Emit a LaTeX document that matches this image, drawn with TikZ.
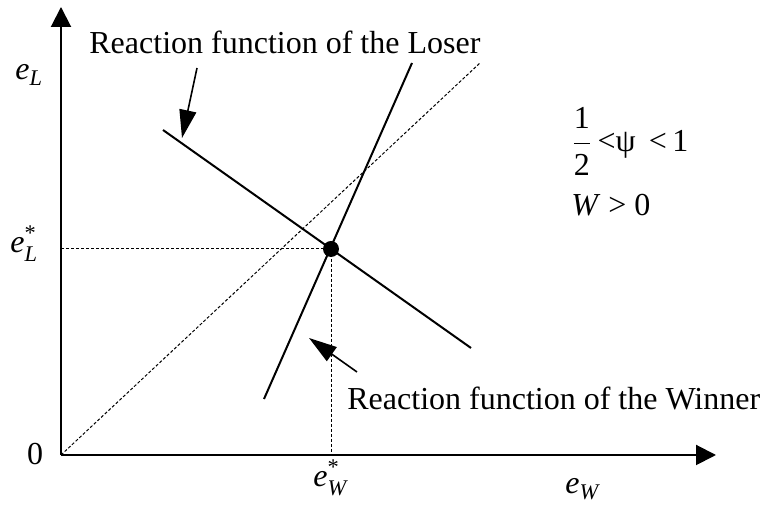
\documentclass[tikz,border=0pt]{standalone}
\usepackage{amsmath}
\usepackage{fontspec}
\setmainfont{Liberation Serif}
\usetikzlibrary{arrows.meta,positioning}

\newcommand{\effort}[1]{$\textit{e}_{\textit{#1}}$}
\newcommand{\efforteq}[1]{$\textit{e}^{\text{*}}_{\textit{#1}}$}

\begin{document}
\begin{tikzpicture}[x=0.5pt, y=-0.5pt,
    font=\fontsize{16}{19}\selectfont,
    axis/.style={line width=1pt, -{Triangle[length=10pt, width=10pt]}},
    react/.style={line width=1pt},
    guide/.style={line width=0.5pt, dash pattern=on 1.5pt off 1pt},
    pointer/.style={line width=0.8pt, -{Triangle[length=14pt, width=8.5pt]}},
    lbl/.style={inner sep=0pt}
]
\useasboundingbox (0,0) rectangle (768,506);

% axes
\coordinate (O) at (61,455);
\coordinate (xend) at (716,455);
\coordinate (yend) at (61,7);
\draw[axis] (O) -- (xend);
\draw[axis] (O) -- (yend);

% 45 degree line
\coordinate (diag) at (480,63);
\draw[guide] (O) -- (diag);

% reaction functions
\coordinate (los1) at (163,130);
\coordinate (los2) at (471,348);
\coordinate (win1) at (264,399);
\coordinate (win2) at (412,63);
\draw[react] (los1) -- (los2);
\draw[react] (win1) -- (win2);

% equilibrium
\node[circle, fill, inner sep=0pt, minimum size=8pt] (eq) at (331,249) {};
\coordinate (eqx) at (331,455);
\coordinate (eqy) at (61,249);
\draw[guide] (eqy) -- (eq.center) -- (eqx);

% labels
\node[lbl, anchor=base west] (loser) at (89,54) {Reaction function of the Loser};
\node[lbl, anchor=base west] (winner) at (347,410) {Reaction function of the Winner};
\coordinate (losfrom) at (197,68);
\coordinate (losto) at (182,138);
\coordinate (winfrom) at (357,372);
\coordinate (winto) at (309,338);
\draw[pointer] (losfrom) -- (losto);
\draw[pointer] (winfrom) -- (winto);

\node[lbl, anchor=base west] (eL) at (15,80) {\effort{L}};
\node[lbl, anchor=base west] (eLs) at (10,253) {\efforteq{L}};
\node[lbl] (zero) at (35,454) {0};
\node[lbl, anchor=base west] (eWs) at (313,487) {\efforteq{W}};
\node[lbl, anchor=base west] (eW) at (565,494) {\effort{W}};

\node[lbl, anchor=base west] (cond1) at (571,152) {$\dfrac{\text{1}}{\text{2}}$\,<ψ \,<\,1};
\node[lbl, anchor=base west] (cond2) at (571,216) {\textit{W} > 0};
\end{tikzpicture}
\end{document}
